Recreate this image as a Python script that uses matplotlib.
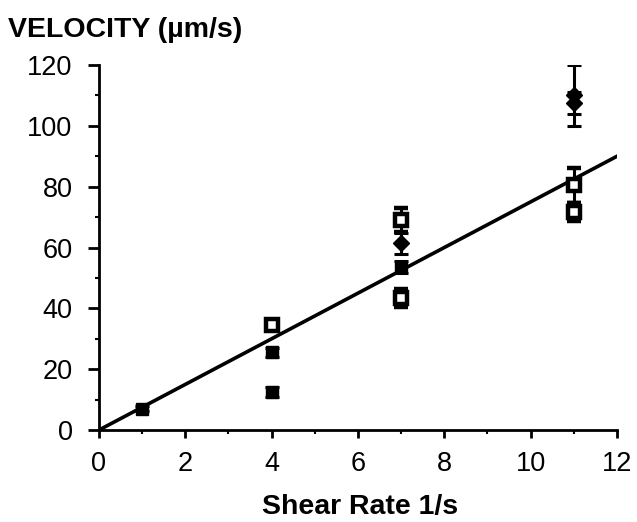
import numpy as np
import matplotlib.pyplot as plt

plt.rcParams['font.family'] = ['Liberation Sans', 'DejaVu Sans']

# open squares
open_x = [4, 7, 7, 11, 11]
open_y = [34.6, 69.0, 43.5, 80.4, 71.6]
open_err = [1.2, 4.0, 3.0, 5.8, 3.0]

# filled diamonds
dia_x = [7, 11, 11]
dia_y = [61.4, 110.0, 107.5]
dia_err = [3.5, 10.0, 3.5]

# filled squares
sq_x = [1, 4, 4, 7]
sq_y = [7.0, 25.5, 12.5, 53.5]
sq_err = [0.8, 1.5, 1.5, 2.0]

# fitted line
fit_x = [0, 12]
fit_y = [0, 90]

fig = plt.figure(figsize=(6.37, 5.22), dpi=100)
ax = fig.add_axes([0.1554, 0.1762, 0.8132, 0.6993])

ax.plot(fit_x, fit_y, color='black', lw=2.6, zorder=2)

ax.errorbar(sq_x, sq_y, yerr=sq_err, fmt='s', color='black', ms=9,
            mfc='black', mec='black', elinewidth=2.2, capsize=5, capthick=2.2, zorder=3)
ax.errorbar(dia_x, dia_y, yerr=dia_err, fmt='D', color='black', ms=8,
            mfc='black', mec='black', elinewidth=2.2, capsize=5, capthick=2.2, zorder=3)
ax.errorbar(open_x, open_y, yerr=open_err, fmt='s', color='black', ms=8.5,
            mfc='white', mec='black', mew=3.2, elinewidth=2.2, capsize=5, capthick=2.2, zorder=4)

ax.set_xlim(0, 12)
ax.set_ylim(0, 120)
ax.set_xticks(np.arange(0, 13, 2))
ax.set_xticks(np.arange(0, 13, 1), minor=True)
ax.set_yticks(np.arange(0, 121, 20))
ax.set_yticks(np.arange(0, 121, 10), minor=True)

for s in ['top', 'right']:
    ax.spines[s].set_visible(False)
for s in ['left', 'bottom']:
    ax.spines[s].set_linewidth(2)

ax.tick_params(axis='x', which='major', direction='out', length=6, width=2,
               labelsize=19.5, pad=9)
ax.tick_params(axis='y', which='major', direction='out', length=8, width=2,
               labelsize=19.5, pad=11)
ax.tick_params(axis='both', which='minor', direction='out', length=3, width=1.5)

fig.text(0.565, 0.029, 'Shear Rate 1/s', fontsize=20.5, fontweight='bold',
         ha='center', va='center')
fig.text(0.012, 0.9425, 'VELOCITY (\u00b5m/s)', fontsize=20.5, fontweight='bold',
         ha='left', va='center')

fig.savefig('out.png', dpi=100, facecolor='white')
